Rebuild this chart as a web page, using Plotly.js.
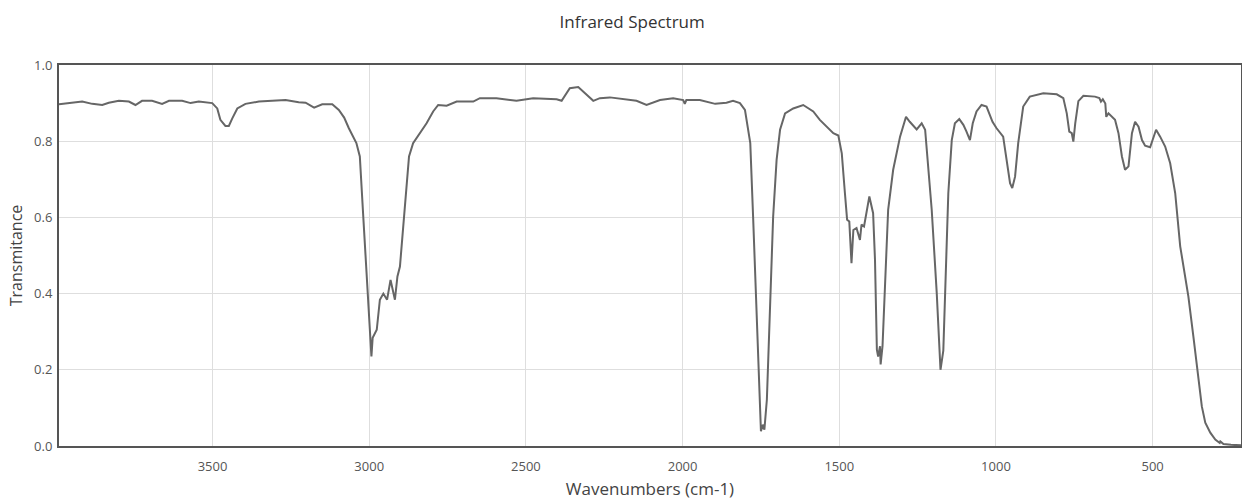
<!DOCTYPE html>
<html>
<head>
<meta charset="utf-8">
<script src="https://cdn.plot.ly/plotly-3.0.1.min.js"></script>
<style>html,body{margin:0;padding:0;background:#fff;}#chart{width:1242px;height:501px;}</style>
</head>
<body>
<div id="chart"></div>
<script>
const wavenumbers = [
 3990,3959,3916,3884,3852,3831,3799,3767,3746,3725,3693,3661,3639,3597,3570,3544,3501,3485,3475,3459,
 3448,3437,3421,3395,3352,3310,3267,3225,3203,3176,3150,3118,3097,3080,3065,3041,3030,3019,3007,2998,
 2993,2989,2976,2966,2955,2943,2932,2918,2910,2902,2886,2873,2860,2838,2817,2796,2780,2753,2721,2668,
 2647,2594,2530,2477,2402,2386,2360,2333,2311,2285,2264,2232,2147,2115,2072,2030,1998,1993,1988,1945,
 1896,1860,1839,1817,1801,1784,1775,1763,1755,1750,1744,1739,1731,1721,1711,1700,1689,1673,1647,1615,
 1583,1562,1540,1519,1503,1492,1482,1475,1468,1461,1455,1445,1434,1429,1421,1412,1404,1392,1386,1380,
 1376,1370,1368,1362,1355,1344,1328,1306,1287,1275,1253,1237,1226,1205,1189,1177,1168,1160,1152,1141,
 1131,1117,1104,1094,1083,1074,1062,1046,1030,1011,998,977,966,955,948,939,929,913,892,849,
 806,785,774,766,758,753,747,737,721,700,684,670,665,659,651,648,641,620,609,598,
 588,577,566,556,545,534,524,508,497,489,476,460,444,428,412,396,386,370,354,343,
 332,316,300,286,284,274,250,218
];
const transmittance = [
 0.897,0.900,0.904,0.898,0.895,0.901,0.906,0.904,0.895,0.906,0.906,0.898,0.906,0.906,0.900,0.904,0.900,0.886,0.856,0.840,
 0.840,0.860,0.886,0.898,0.904,0.906,0.908,0.902,0.901,0.888,0.897,0.897,0.882,0.862,0.834,0.795,0.760,0.602,0.428,0.279,
 0.235,0.284,0.305,0.384,0.400,0.384,0.436,0.384,0.445,0.471,0.620,0.760,0.795,0.820,0.847,0.878,0.895,0.893,0.904,0.904,
 0.913,0.913,0.906,0.913,0.910,0.906,0.939,0.942,0.926,0.906,0.913,0.915,0.906,0.895,0.908,0.913,0.908,0.898,0.908,0.908,
 0.898,0.901,0.906,0.900,0.882,0.795,0.602,0.340,0.122,0.039,0.056,0.043,0.122,0.340,0.602,0.751,0.830,0.873,0.886,0.895,
 0.878,0.856,0.838,0.821,0.815,0.768,0.664,0.594,0.589,0.480,0.567,0.572,0.541,0.581,0.576,0.620,0.655,0.611,0.489,0.253,
 0.235,0.262,0.214,0.262,0.402,0.620,0.725,0.812,0.864,0.851,0.831,0.847,0.830,0.620,0.402,0.200,0.250,0.450,0.664,0.803,
 0.847,0.858,0.843,0.825,0.803,0.847,0.878,0.895,0.891,0.851,0.834,0.812,0.751,0.690,0.677,0.707,0.795,0.891,0.917,0.926,
 0.923,0.913,0.873,0.825,0.821,0.799,0.847,0.905,0.919,0.917,0.917,0.913,0.904,0.910,0.899,0.864,0.873,0.856,0.821,0.760,
 0.725,0.734,0.821,0.851,0.838,0.803,0.788,0.784,0.812,0.830,0.812,0.786,0.742,0.664,0.524,0.445,0.393,0.288,0.183,0.104,
 0.061,0.035,0.017,0.008,0.012,0.005,0.003,0.002
];
const xTickValues = [3500, 3000, 2500, 2000, 1500, 1000, 500];
const yTickValues = [0, 0.2, 0.4, 0.6, 0.8, 1.0];

const trace = {
  x: wavenumbers, y: transmittance, type: 'scatter', mode: 'lines',
  line: {color: '#666666', width: 2}, hoverinfo: 'x+y', showlegend: false
};
const layout = {
  width: 1242, height: 501,
  margin: {l: 59, r: 1, t: 65, b: 55},
  paper_bgcolor: '#fff', plot_bgcolor: '#fff',
  font: {family: 'Open Sans, sans-serif', color: '#444', size: 12},
  title: {text: 'Infrared Spectrum', font: {size: 17, color: '#333'}, xref: 'container', x: 0.509, xanchor: 'center', yref: 'container', y: 0.956, yanchor: 'middle'},
  xaxis: {
    range: [3990, 218], tickvals: xTickValues, ticktext: xTickValues.map(String),
    showgrid: true, gridcolor: '#dedede', zeroline: false,
    showline: true, mirror: true, linecolor: '#555', linewidth: 2,
    ticks: '', ticklabelstandoff: 7, tickfont: {size: 13, color: '#555'},
    automargin: false,
    title: {text: 'Wavenumbers (cm-1)', font: {size: 17, color: '#444'}, standoff: 10}
  },
  yaxis: {
    range: [0, 1], tickvals: yTickValues, tickformat: '.1f',
    showgrid: true, gridcolor: '#dedede', zeroline: false,
    showline: true, mirror: true, linecolor: '#555', linewidth: 2,
    ticks: '', ticklabelstandoff: 2, tickfont: {size: 13, color: '#555'},
    automargin: false,
    title: {text: 'Transmitance', font: {size: 16, color: '#444'}, standoff: 8}
  }
};
Plotly.newPlot('chart', [trace], layout, {displayModeBar: false, staticPlot: true});
</script>
</body>
</html>
